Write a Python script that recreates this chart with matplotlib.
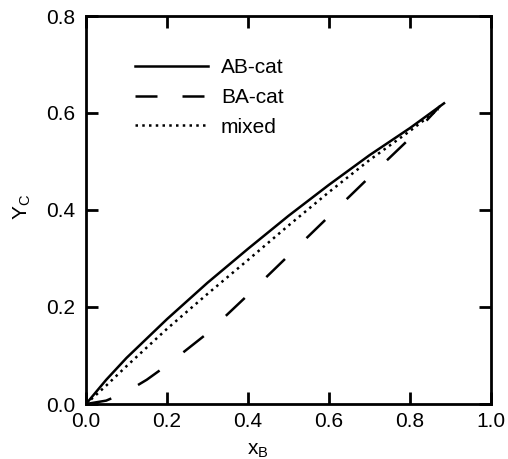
import matplotlib
matplotlib.use("Agg")
import matplotlib.pyplot as plt
from matplotlib.lines import Line2D

plt.rcParams['font.family'] = ['Liberation Sans', 'DejaVu Sans']
plt.rcParams['mathtext.fontset'] = 'custom'
plt.rcParams['mathtext.rm'] = 'Liberation Sans'

# Data
xb_ab = [0, 0.05, 0.1, 0.2, 0.3, 0.4, 0.5, 0.6, 0.7, 0.8, 0.884]
yc_ab = [0, 0.05, 0.095, 0.175, 0.25, 0.32, 0.388, 0.452, 0.513, 0.569, 0.62]

xb_ba = [0, 0.05, 0.1, 0.15, 0.2, 0.3, 0.4, 0.5, 0.6, 0.7, 0.8, 0.875]
yc_ba = [0, 0.007, 0.025, 0.05, 0.08, 0.146, 0.225, 0.306, 0.387, 0.468, 0.548, 0.615]

xb_mix = [0, 0.05, 0.1, 0.2, 0.3, 0.4, 0.5, 0.6, 0.7, 0.8, 0.87]
yc_mix = [0, 0.038, 0.078, 0.155, 0.227, 0.297, 0.368, 0.437, 0.503, 0.563, 0.608]

labels = ['AB-cat', 'BA-cat', 'mixed']
xticks = [0.0, 0.2, 0.4, 0.6, 0.8, 1.0]
yticks = [0.0, 0.2, 0.4, 0.6, 0.8]

fs = 15
fig = plt.figure(figsize=(5.08, 4.59), dpi=100)
ax = fig.add_axes([86/508, 1-404/459, 405/508, 388/459])

lw = 1.8
ax.plot(xb_ab, yc_ab, color='black', lw=lw, solid_joinstyle='round')
ax.plot(xb_ba, yc_ba, color='black', lw=lw, dashes=(10.4, 12), dash_capstyle='butt')
ax.plot(xb_mix, yc_mix, color='black', lw=lw, dashes=(1, 1.7), dash_capstyle='butt')

ax.set_xlim(0, 1.0)
ax.set_ylim(0, 0.8)
ax.set_xticks(xticks)
ax.set_yticks(yticks)
ax.set_xticklabels([f'{v:.1f}' for v in xticks])
ax.set_yticklabels([f'{v:.1f}' for v in yticks])

for s in ax.spines.values():
    s.set_linewidth(2.0)
ax.tick_params(direction='in', length=8.6, width=2.0, top=True, right=True,
               labelsize=fs, colors='black')
ax.tick_params(axis='x', pad=6)
ax.tick_params(axis='y', pad=7.5)

ax.set_xlabel(r'$\mathregular{x_B}$', fontsize=fs)
ax.set_ylabel(r'$\mathregular{Y_C}$', fontsize=fs)
ax.xaxis.set_label_coords(0.425, -0.095)
ax.yaxis.set_label_coords(-0.132, 0.508)

handles = [
    Line2D([], [], color='black', lw=lw),
    Line2D([], [], color='black', lw=lw, dashes=(8.8, 10), dash_capstyle='butt'),
    Line2D([], [], color='black', lw=lw, dashes=(1, 1.7), dash_capstyle='butt'),
]
ax.legend(handles, labels, loc='upper left', bbox_to_anchor=(0.121, 0.891),
          frameon=False, fontsize=fs, handlelength=3.5, handletextpad=0.63,
          labelspacing=0.51, borderpad=0, borderaxespad=0)

fig.savefig('out.png', dpi=100)
